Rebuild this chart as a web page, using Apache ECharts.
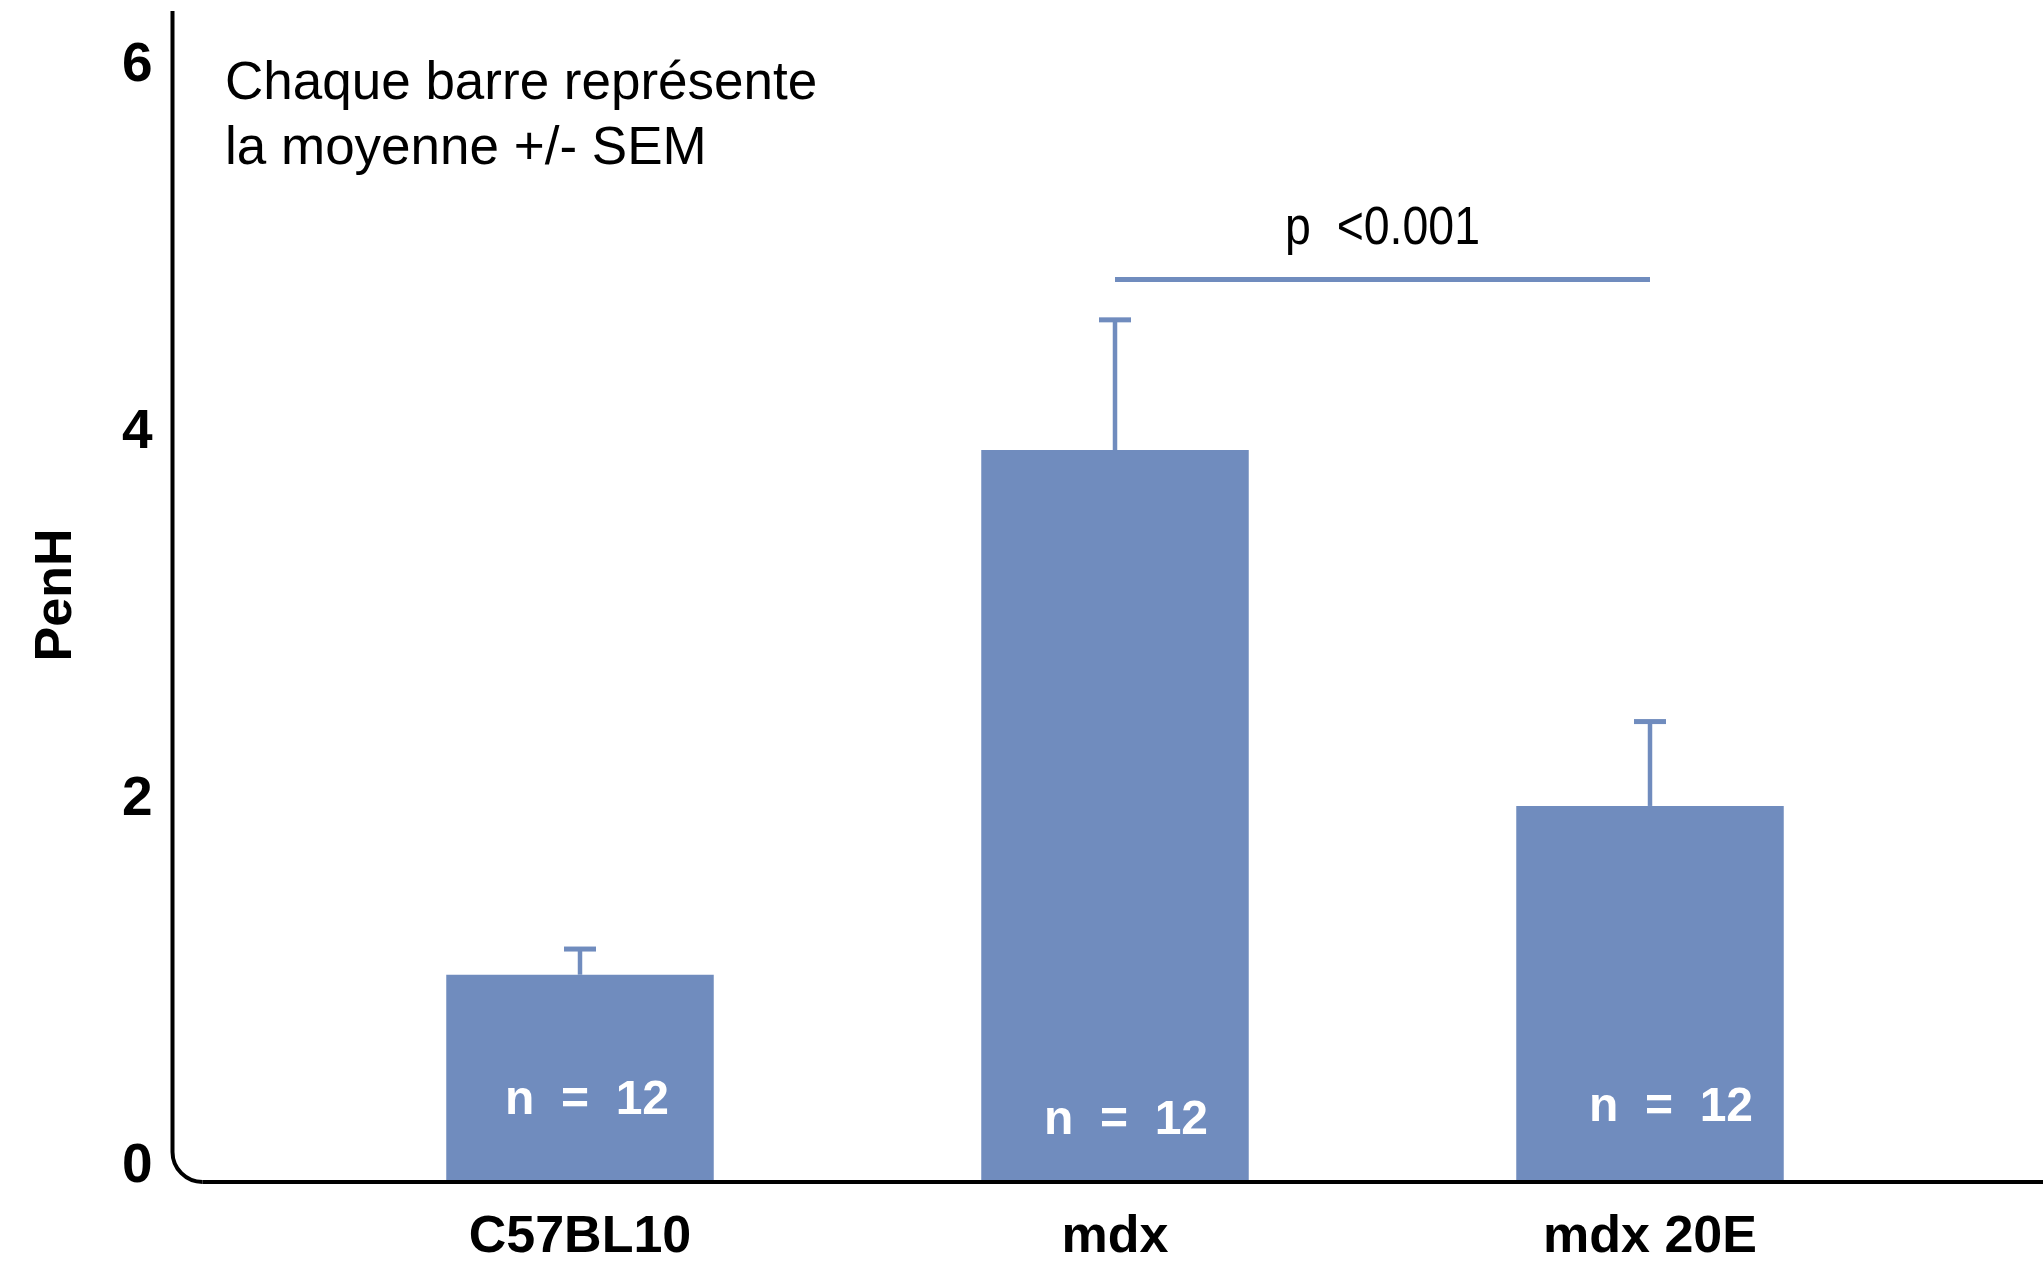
<!DOCTYPE html>
<html>
<head>
<meta charset="utf-8">
<title>PenH</title>
<script src="https://cdn.jsdelivr.net/npm/echarts@6/dist/echarts.min.js"></script>
<style>
  html, body { margin: 0; padding: 0; background: #ffffff; }
  #chart { width: 2043px; height: 1264px; }
</style>
</head>
<body>
<div id="chart"></div>
<script>
// Groups, mean PenH and standard error of the mean
const categories = ['C57BL10', 'mdx', 'mdx 20E'];
const meanPenH = [1.13, 3.99, 2.05];
const semPenH = [0.14, 0.71, 0.46];
const nAnimals = [12, 12, 12];

// Significance bracket between mdx and mdx 20E
const sigPair = [1, 2];
const sigLevel = 4.92;
const sigText = 'p  <0.001';

const noteLines = ['Chaque barre représente', 'la moyenne +/- SEM'];

// Layout and styling
const FONT = "'Liberation Sans', Arial, Helvetica, sans-serif";
const BAR_COLOR = '#708cbe';
const GRID_LEFT = 312.5;
const AXIS_OFFSET = 140;
const Y_MAX = 6.4;
// nudges for the "n = ..." captions inside each bar (x, height above base)
const nCaptionNudge = [[7, 81], [11, 61], [21, 74]];

const chart = echarts.init(document.getElementById('chart'), null, { renderer: 'canvas' });

const barData = meanPenH.map((v, i) => ({
  value: v,
  label: { offset: [nCaptionNudge[i][0], -nCaptionNudge[i][1]] }
}));

const errData = meanPenH.map((v, i) => [i, v, v + semPenH[i]]);

const option = {
  backgroundColor: '#ffffff',
  animation: false,
  grid: { left: GRID_LEFT, right: 125.5, top: 8, bottom: 82, containLabel: false },
  xAxis: {
    type: 'category',
    data: categories,
    axisLine: { show: false },
    axisTick: { show: false },
    splitLine: { show: false },
    axisLabel: {
      margin: 30,
      color: '#000000',
      fontFamily: FONT,
      fontWeight: 'bold',
      fontSize: 52,
      interval: 0
    }
  },
  yAxis: {
    type: 'value',
    min: 0,
    max: Y_MAX,
    interval: 2,
    offset: AXIS_OFFSET,
    name: 'PenH',
    nameLocation: 'middle',
    nameRotate: 90,
    nameGap: 90,
    nameTextStyle: { color: '#000000', fontFamily: FONT, fontWeight: 'bold', fontSize: 52 },
    axisLine: { show: false },
    axisTick: { show: false },
    splitLine: { show: false },
    axisLabel: {
      showMaxLabel: false,
      margin: 20,
      color: '#000000',
      fontFamily: FONT,
      fontWeight: 'bold',
      fontSize: 55,
      verticalAlign: 'bottom',
      lineHeight: 31,
      formatter: v => (v % 2 === 0 ? String(v) : '')
    }
  },
  series: [
    {
      type: 'bar',
      data: barData,
      barWidth: '50%',
      itemStyle: { color: BAR_COLOR },
      label: {
        show: true,
        position: ['50%', '100%'],
        align: 'center',
        verticalAlign: 'middle',
        color: '#ffffff',
        fontFamily: FONT,
        fontWeight: 'bold',
        fontSize: 48,
        formatter: p => 'n  =  ' + nAnimals[p.dataIndex]
      },
      z: 2
    },
    {
      // SEM whiskers drawn above each bar
      type: 'custom',
      data: errData,
      z: 3,
      renderItem: (params, api) => {
        const base = api.coord([api.value(0), api.value(1)]);
        const top = api.coord([api.value(0), api.value(2)]);
        const capW = 32, capH = 5, stemW = 4.5;
        return {
          type: 'group',
          children: [
            { type: 'rect', shape: { x: base[0] - stemW / 2, y: top[1], width: stemW, height: base[1] - top[1] },
              style: { fill: BAR_COLOR } },
            { type: 'rect', shape: { x: top[0] - capW / 2, y: top[1] - capH / 2, width: capW, height: capH },
              style: { fill: BAR_COLOR } }
          ]
        };
      }
    },
    {
      // significance bracket with its p-value
      type: 'custom',
      data: [[sigPair[0], sigPair[1], sigLevel]],
      z: 3,
      renderItem: (params, api) => {
        const a = api.coord([api.value(0), api.value(2)]);
        const b = api.coord([api.value(1), api.value(2)]);
        const h = 5;
        return {
          type: 'group',
          children: [
            { type: 'rect', shape: { x: a[0], y: a[1] - h / 2, width: b[0] - a[0], height: h },
              style: { fill: BAR_COLOR } },
            { type: 'text', x: (a[0] + b[0]) / 2, y: a[1] - 50, scaleX: 0.86,
              style: { text: sigText, fill: '#000000', font: '54px ' + FONT,
                       textAlign: 'center', textVerticalAlign: 'middle' } }
          ]
        };
      }
    }
  ]
};

chart.setOption(option);

// Axis frame with a rounded lower-left corner, spanning the whole width
const x0 = GRID_LEFT - AXIS_OFFSET;
const yBase = chart.convertToPixel({ yAxisIndex: 0 }, 0);
const yTop = chart.convertToPixel({ yAxisIndex: 0 }, Y_MAX) + 3;
const xEnd = chart.getWidth();
const r = 30, k = 0.45;
const frameStyle = { stroke: '#000000', lineWidth: 4, fill: null };

chart.setOption({
  graphic: [
    {
      type: 'line',
      shape: { x1: x0, y1: yTop, x2: x0, y2: yBase - r },
      style: frameStyle,
      z: 10
    },
    {
      type: 'bezierCurve',
      shape: {
        x1: x0, y1: yBase - r,
        cpx1: x0, cpy1: yBase - r * k,
        cpx2: x0 + r * k, cpy2: yBase,
        x2: x0 + r, y2: yBase
      },
      style: frameStyle,
      z: 10
    },
    {
      type: 'line',
      shape: { x1: x0 + r, y1: yBase, x2: xEnd, y2: yBase },
      style: frameStyle,
      z: 10
    },
    {
      type: 'text',
      left: 225,
      top: 52,
      style: {
        text: noteLines.join('\n'),
        fill: '#000000',
        font: '53px ' + FONT,
        lineHeight: 65
      },
      z: 10
    }
  ]
});
</script>
</body>
</html>
